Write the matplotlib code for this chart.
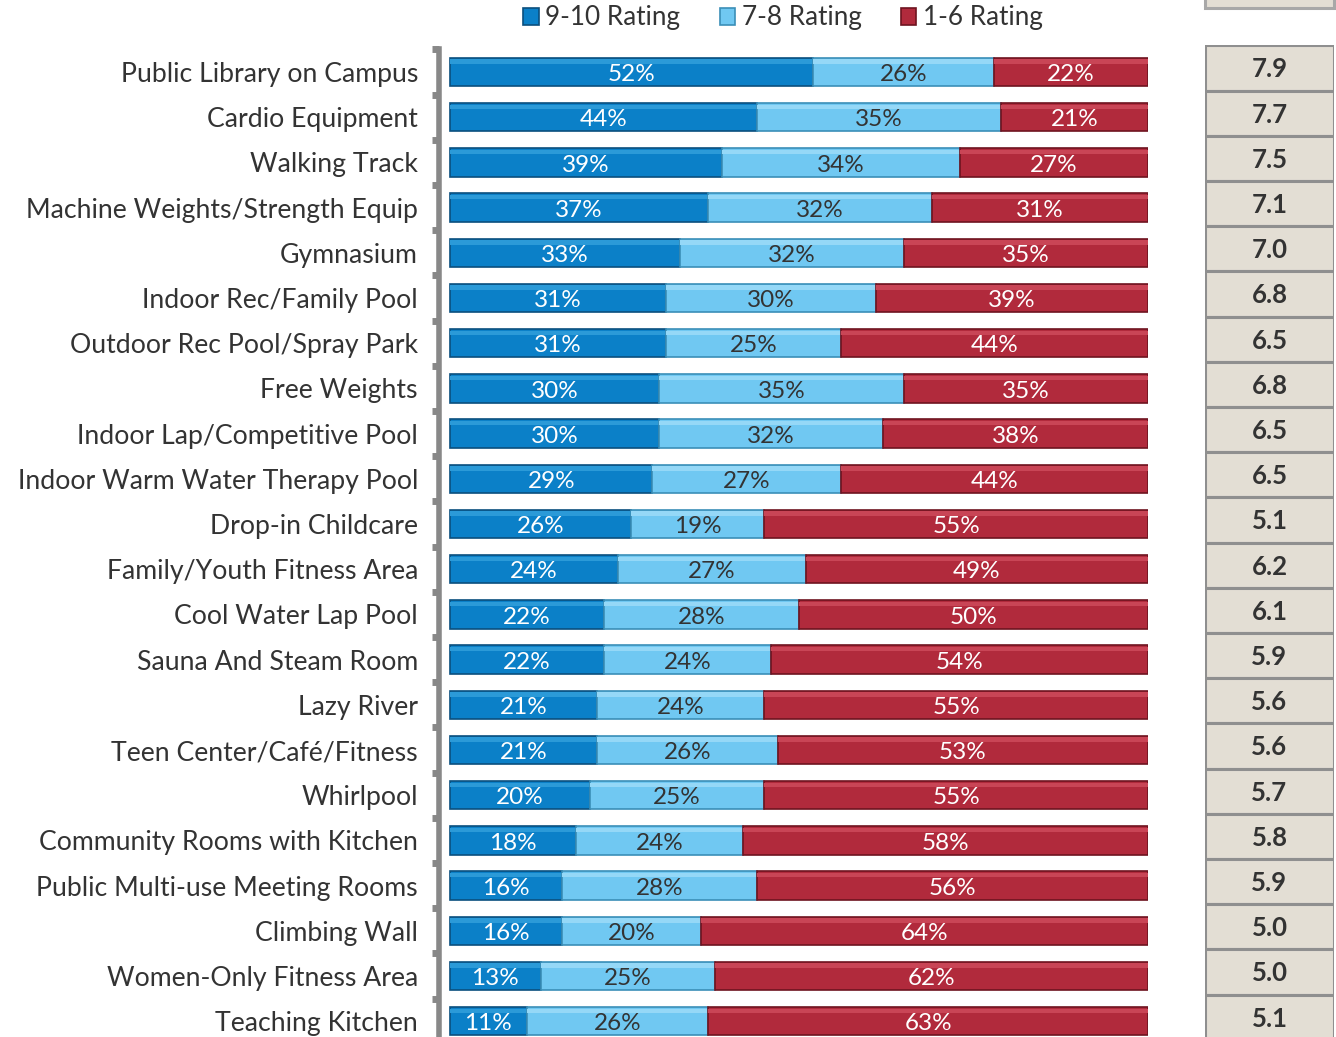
import matplotlib.pyplot as plt
from matplotlib.patches import Rectangle
import numpy as np

plt.rcParams['font.family'] = ['Lato', 'DejaVu Sans']

# 数据
items = [
    'Public Library on Campus', 'Cardio Equipment', 'Walking Track',
    'Machine Weights/Strength Equip', 'Gymnasium', 'Indoor Rec/Family Pool',
    'Outdoor Rec Pool/Spray Park', 'Free Weights', 'Indoor Lap/Competitive Pool',
    'Indoor Warm Water Therapy Pool', 'Drop-in Childcare', 'Family/Youth Fitness Area',
    'Cool Water Lap Pool', 'Sauna And Steam Room', 'Lazy River',
    'Teen Center/Café/Fitness', 'Whirlpool', 'Community Rooms with Kitchen',
    'Public Multi-use Meeting Rooms', 'Climbing Wall', 'Women-Only Fitness Area',
    'Teaching Kitchen',
]
r9_10 = [52, 44, 39, 37, 33, 31, 31, 30, 30, 29, 26, 24, 22, 22, 21, 21, 20, 18, 16, 16, 13, 11]
r7_8 = [26, 35, 34, 32, 32, 30, 25, 35, 32, 27, 19, 27, 28, 24, 24, 26, 25, 24, 28, 20, 25, 26]
r1_6 = [22, 21, 27, 31, 35, 39, 44, 35, 38, 44, 55, 49, 50, 54, 55, 53, 55, 58, 56, 64, 62, 63]
avg = [7.9, 7.7, 7.5, 7.1, 7.0, 6.8, 6.5, 6.8, 6.5, 6.5, 5.1, 6.2, 6.1, 5.9, 5.6, 5.6,
       5.7, 5.8, 5.9, 5.0, 5.0, 5.1]
series_names = ['9-10 Rating', '7-8 Rating', '1-6 Rating']

colors = ['#0b80c8', '#70c8f2', '#b12a3c']
edges = ['#0a4f7e', '#3b8fb8', '#6e1420']
hilite = ['#2b9ad8', '#95d8f7', '#c94556']
txt_colors = ['white', '#333333', 'white']

W, H = 1336, 1037
fig = plt.figure(figsize=(W / 100, H / 100), dpi=100)
fig.patch.set_facecolor('white')

n = len(items)
row = 45.2
# 主图（像素换算）
top_px, x0, x1 = 72 - row / 2, 450, 1148
xmin = -1.6
left_px = x0 + xmin / 100 * (x1 - x0)
ax = fig.add_axes([left_px / W, 1 - (top_px + n * row) / H,
                   (x1 - left_px) / W, n * row / H])
y = np.arange(n)
left = np.zeros(n)
for vals, c, ec, hc, tc, name in zip([r9_10, r7_8, r1_6], colors, edges, hilite,
                                     txt_colors, series_names):
    vals = np.array(vals, dtype=float)
    ax.barh(y, vals, 0.63, left=left, color=c, edgecolor=ec, linewidth=1.2, label=name)
    # 顶部高光，模仿立体效果
    ax.barh(y - 0.23, vals, 0.1, left=left, color=hc, linewidth=0)
    for j, v in enumerate(vals):
        ax.text(left[j] + v / 2, y[j] + 0.06, f'{v:.0f}%', ha='center', va='center',
                fontsize=17.5, color=tc)
    left += vals

ax.set_xlim(xmin, 100)
ax.set_ylim(n - 0.5, -0.5)
ax.set_yticks(y)
ax.set_yticklabels(items, fontsize=19.2, color='#333333')
ax.set_yticks(np.arange(n + 1) - 0.5, minor=True)
ax.tick_params(axis='y', which='major', length=0, pad=15)
ax.tick_params(axis='y', which='minor', length=5, width=5, color='#888888')
ax.tick_params(axis='x', bottom=False, labelbottom=False)
for s in ['top', 'right', 'bottom']:
    ax.spines[s].set_visible(False)
ax.spines['left'].set_color('#888888')
ax.spines['left'].set_linewidth(4)

# 图例
ax.legend(loc='center', bbox_to_anchor=(783 / W, 1 - 18 / H), bbox_transform=fig.transFigure,
          ncol=3, frameon=False, fontsize=18.8, handlelength=0.6, handleheight=0.6,
          handletextpad=0.25, columnspacing=1.5, labelcolor='#333333')

# 右侧平均分表格
tx0, tx1 = 1205, 1334
ttop = 68 - row / 2
ax2 = fig.add_axes([tx0 / W, 1 - (ttop + n * row) / H, (tx1 - tx0) / W, n * row / H])
ax2.barh(y, [1] * n, 1.0, left=0, color='#e3ded4', edgecolor='#8f8f8f', linewidth=2.2)
for j, v in enumerate(avg):
    ax2.text(0.5, y[j] + 0.03, f'{v:.1f}', ha='center', va='center', fontsize=18.5,
             fontweight='bold', color='#333333')
ax2.set_xlim(0, 1)
ax2.set_ylim(n - 0.5, -0.5)
ax2.axis('off')

# 顶部表头框（被裁切）
fig.patches.append(Rectangle((tx0 / W, 1 - 8 / H), (tx1 - tx0) / W, 30 / H,
                             transform=fig.transFigure, facecolor='#e3ded4',
                             edgecolor='#a8a8a8', linewidth=2.2))

fig.savefig('out.png', dpi=100, facecolor='white')
